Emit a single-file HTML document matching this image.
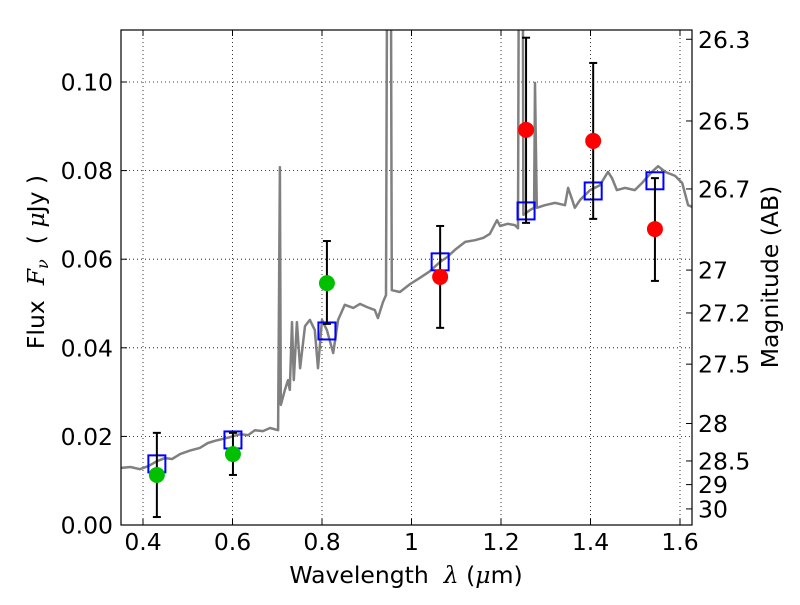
<!DOCTYPE html>
<html><head><meta charset="utf-8"><style>
body{margin:0;background:#fff;}
svg text{font-family:"DejaVu Sans","Liberation Sans",sans-serif;white-space:pre;}
</style></head><body>
<svg id="chart" width="800" height="600" viewBox="0 0 800 600">
<defs><clipPath id="clip"><rect x="121" y="30" width="571" height="495"/></clipPath></defs>
<rect x="0" y="0" width="800" height="600" fill="#fff"/>
<g id="grid"></g>
<g id="series" clip-path="url(#clip)"></g>
<g id="axes"></g>
</svg>
<script>
// ---- data ----
const xTicks = [0.4, 0.6, 0.8, 1.0, 1.2, 1.4, 1.6];
const xTickLabels = ["0.4","0.6","0.8","1","1.2","1.4","1.6"];
const yTicks = [0, 0.02, 0.04, 0.06, 0.08, 0.10];
const yTickLabels = ["0.00","0.02","0.04","0.06","0.08","0.10"];
const magTicks = [26.3, 26.5, 26.7, 27, 27.2, 27.5, 28, 28.5, 29, 30];
const magTickLabels = ["26.3","26.5","26.7","27","27.2","27.5","28","28.5","29","30"];
const specWave = [0.351,0.372,0.393,0.412,0.431,0.449,0.465,0.483,0.505,0.527,0.545,0.561,0.590,0.617,0.635,0.650,0.668,0.684,0.702,0.706,0.708,0.717,0.724,0.728,0.733,0.737,0.744,0.751,0.762,0.773,0.784,0.791,0.800,0.811,0.825,0.836,0.851,0.870,0.885,0.900,0.918,0.925,0.936,0.943,0.948,0.952,0.956,0.974,0.997,1.019,1.040,1.064,1.080,1.097,1.120,1.142,1.160,1.175,1.191,1.198,1.215,1.231,1.238,1.242,1.247,1.250,1.265,1.274,1.276,1.280,1.298,1.321,1.343,1.350,1.359,1.365,1.377,1.399,1.421,1.439,1.448,1.459,1.477,1.499,1.515,1.537,1.551,1.567,1.589,1.605,1.618,1.627];
const specFlux = [0.0129,0.0131,0.0126,0.0133,0.0144,0.0151,0.0149,0.016,0.0168,0.0174,0.0185,0.019,0.0197,0.0205,0.0203,0.0214,0.0212,0.0219,0.0214,0.0808,0.0271,0.0305,0.0327,0.0305,0.0458,0.0327,0.0458,0.0354,0.0449,0.0463,0.044,0.0354,0.0463,0.044,0.0388,0.0463,0.0497,0.049,0.0499,0.0492,0.0485,0.0467,0.0503,0.0519,0.2,0.2,0.053,0.0526,0.0544,0.0558,0.0572,0.0594,0.0605,0.0621,0.0639,0.0643,0.0648,0.0657,0.0688,0.0675,0.068,0.0677,0.067,0.2,0.2,0.07,0.0711,0.0716,0.0998,0.0716,0.0722,0.0727,0.0722,0.0761,0.0734,0.0716,0.0734,0.0756,0.0767,0.0797,0.0783,0.0756,0.0761,0.0756,0.0772,0.0797,0.081,0.0797,0.0788,0.0772,0.0722,0.0718];
const obsWave = [0.431,0.601,0.811,1.064,1.256,1.406,1.544];
const obsFlux = [0.0113,0.016,0.0546,0.056,0.0892,0.0867,0.0668];
const obsLow = [0.0018,0.0113,0.0454,0.0445,0.0682,0.0691,0.0551];
const obsHigh = [0.0208,0.0208,0.0641,0.0675,0.110,0.1043,0.0783];
const obsColor = ["#00c000","#00c000","#00c000","#ff0000","#ff0000","#ff0000","#ff0000"];
const modelFlux = [0.0138,0.0192,0.0438,0.0594,0.0709,0.0754,0.0777];

// ---- axes ----
const L=121,R=692,T=30,B=525;
const X = v => 143 + (v-0.4)*447.5;
const Y = v => 525 - v*4430;
const magToFlux = m => Math.pow(10,(23.9-m)/2.5);
const NS="http://www.w3.org/2000/svg";
function mk(tag, attrs, parent){const e=document.createElementNS(NS,tag);for(const k in attrs)e.setAttribute(k,attrs[k]);parent.appendChild(e);return e;}
const grid=document.getElementById('grid'), series=document.getElementById('series'), axes=document.getElementById('axes');
const FS=23.5;

xTicks.forEach((t,i)=>{
  const gl=mk('line',{x1:X(t),x2:X(t),y1:T,y2:B,stroke:'#000','stroke-width':0.8,'stroke-dasharray':'1,3'},grid);
  
  
  mk('line',{x1:X(t),x2:X(t),y1:B,y2:B-6,stroke:'#000','stroke-width':1},axes);
  mk('line',{x1:X(t),x2:X(t),y1:T,y2:T+6,stroke:'#000','stroke-width':1},axes);
  const tx=mk('text',{x:X(t),y:B+25,'font-size':FS,'text-anchor':'middle'},axes);
  tx.textContent=xTickLabels[i];
  
  
});
yTicks.forEach((t,i)=>{
  const gl=mk('line',{x1:L,x2:R,y1:Y(t),y2:Y(t),stroke:'#000','stroke-width':0.8,'stroke-dasharray':'1,3'},grid);
  
  
  mk('line',{x1:L,x2:L+6,y1:Y(t),y2:Y(t),stroke:'#000','stroke-width':1},axes);
  const tx=mk('text',{x:L-8,y:Y(t)+8.5,'font-size':FS,'text-anchor':'end'},axes);
  tx.textContent=yTickLabels[i];
  
  
});
magTicks.forEach((m,i)=>{
  const y=Y(magToFlux(m));
  mk('line',{x1:R,x2:R-6,y1:y,y2:y,stroke:'#000','stroke-width':1},axes);
  const tx=mk('text',{x:R+6,y:y+8.5,'font-size':FS},axes);
  tx.textContent=magTickLabels[i];
  
  
});

// spectrum
const pts=specWave.map((w,i)=>X(w).toFixed(1)+','+Y(specFlux[i]).toFixed(1)).join(' ');
const sp=mk('polyline',{points:pts,fill:'none',stroke:'#808080','stroke-width':2.5,'stroke-linejoin':'round'},series);



// model squares
modelFlux.forEach((f,i)=>{
  const r=mk('rect',{x:X(obsWave[i])-8.5,y:Y(f)-8.5,width:17,height:17,fill:'none',stroke:'#0000ff','stroke-width':2},series);
  
  
});
// error bars + points
obsWave.forEach((w,i)=>{
  const x=X(w);
  const g=mk('g',{},series);
  
  
  mk('line',{x1:x,x2:x,y1:Y(obsLow[i]),y2:Y(obsHigh[i]),stroke:'#000','stroke-width':2},g);
  mk('line',{x1:x-4,x2:x+4,y1:Y(obsLow[i]),y2:Y(obsLow[i]),stroke:'#000','stroke-width':2},g);
  mk('line',{x1:x-4,x2:x+4,y1:Y(obsHigh[i]),y2:Y(obsHigh[i]),stroke:'#000','stroke-width':2},g);
  const c=mk('circle',{cx:x,cy:Y(obsFlux[i]),r:8,fill:obsColor[i]},series);
  
  
});

// frame
const fr=mk('rect',{x:L,y:T,width:R-L,height:B-T,fill:'none',stroke:'#000','stroke-width':1.2},axes);



// titles
const xt=mk('text',{x:406,y:583,'font-size':FS,'text-anchor':'middle'},axes);
xt.innerHTML='Wavelength  <tspan font-family="DejaVu Serif" font-style="italic">λ</tspan> (<tspan font-family="DejaVu Serif" font-style="italic">μ</tspan>m)';


const yt=mk('text',{x:0,y:0,'font-size':FS,'text-anchor':'middle',transform:'translate(44,262) rotate(-90)'},axes);
yt.innerHTML='Flux  <tspan font-family="DejaVu Serif" font-style="italic">F</tspan><tspan font-family="DejaVu Serif" font-style="italic" font-size="16" dy="4">ν</tspan><tspan dy="-4">  ( </tspan><tspan font-family="DejaVu Serif" font-style="italic">μ</tspan>Jy )';


const rt=mk('text',{x:0,y:0,'font-size':FS,'text-anchor':'middle',transform:'translate(778,277) rotate(-90)'},axes);
rt.textContent='Magnitude (AB)';


</script>
</body></html>
